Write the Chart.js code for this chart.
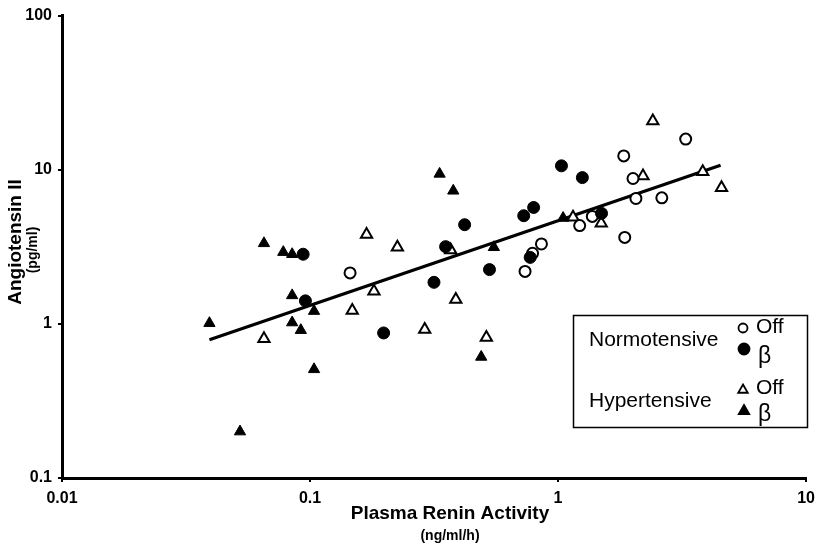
<!DOCTYPE html>
<html>
<head>
<meta charset="utf-8">
<script src="https://cdn.jsdelivr.net/npm/chart.js@4.4.0/dist/chart.umd.min.js"></script>
<style>
  html, body { margin: 0; padding: 0; background: #fff; }
  #wrap { width: 822px; height: 548px; }
</style>
</head>
<body>
<div id="wrap"><canvas id="c" width="822" height="548"></canvas></div>
<script>
// ---- Data ----
const xTicks = [0.01, 0.1, 1, 10];
const xTickLabels = ['0.01', '0.1', '1', '10'];
const yTicks = [0.1, 1, 10, 100];
const yTickLabels = ['0.1', '1', '10', '100'];

// Normotensive, Off (open circles)
const normOffX = [0.145, 0.736, 0.789, 0.857, 1.222, 1.374, 1.857, 1.84, 2.005, 2.06, 2.62, 3.27];
const normOffY = [2.14, 2.19, 2.87, 3.30, 4.34, 4.98, 3.64, 12.3, 8.77, 6.51, 6.57, 15.8];

// Normotensive, beta (filled circles)
const normBetaX = [0.0938, 0.0958, 0.198, 0.316, 0.352, 0.42, 0.529, 0.727, 0.797, 0.772, 1.032, 1.253, 1.497];
const normBetaY = [2.83, 1.41, 0.873, 1.86, 3.17, 4.4, 2.25, 5.03, 5.69, 2.70, 10.6, 8.89, 5.21];

// Hypertensive, Off (open triangles)
const hypOffX = [0.0652, 0.169, 0.225, 0.181, 0.148, 0.290, 0.387, 0.514, 0.369, 1.149, 1.493, 2.20, 2.41, 3.83, 4.56];
const hypOffY = [0.80, 3.8, 3.14, 1.63, 1.22, 0.92, 1.44, 0.815, 3.02, 4.91, 4.49, 9.12, 20.7, 9.72, 7.63];

// Hypertensive, beta (filled triangles)
const hypBetaX = [0.0393, 0.0522, 0.0652, 0.078, 0.0847, 0.0847, 0.0847, 0.0918, 0.1038, 0.1038, 0.333, 0.378, 0.551, 0.490, 1.048];
const hypBetaY = [1.01, 0.20, 3.33, 2.92, 2.83, 1.53, 1.02, 0.91, 1.21, 0.507, 9.4, 7.3, 3.14, 0.61, 4.86];

// Regression line end points
const fitX = [0.0393, 4.52];
const fitY = [0.79, 10.7];

const xTitle = 'Plasma Renin Activity';
const xUnit = '(ng/ml/h)';
const yTitle = 'Angiotensin II';
const yUnit = '(pg/ml)';
const legendGroups = ['Normotensive', 'Hypertensive'];
const legendStates = ['Off', 'β'];

// ---- Build ----
const pts = (xs, ys) => xs.map((x, i) => ({ x: x, y: ys[i] }));
const FONT = '"Liberation Sans", Arial, Helvetica, sans-serif';

const titlesAndLegend = {
  id: 'titlesAndLegend',
  afterDraw(chart) {
    const ctx = chart.ctx;
    ctx.save();
    ctx.fillStyle = '#000';
    ctx.strokeStyle = '#000';
    // x title
    ctx.textAlign = 'center';
    ctx.textBaseline = 'alphabetic';
    ctx.font = 'bold 19px ' + FONT;
    ctx.fillText(xTitle, 450, 519);
    ctx.font = 'bold 14px ' + FONT;
    ctx.fillText(xUnit, 450, 540);
    // y title
    ctx.save();
    ctx.translate(21, 242);
    ctx.rotate(-Math.PI / 2);
    ctx.font = 'bold 19px ' + FONT;
    ctx.fillText(yTitle, 0, 0);
    ctx.restore();
    ctx.save();
    ctx.translate(37, 250);
    ctx.rotate(-Math.PI / 2);
    ctx.font = 'bold 14px ' + FONT;
    ctx.fillText(yUnit, 0, 0);
    ctx.restore();

    // legend box
    ctx.lineWidth = 1.5;
    ctx.fillStyle = '#fff';
    ctx.fillRect(573, 315, 235, 113);
    ctx.strokeRect(573.5, 315.5, 234, 112);
    ctx.fillStyle = '#000';
    ctx.textAlign = 'left';
    ctx.textBaseline = 'middle';
    ctx.font = '500 21px ' + FONT;
    ctx.fillText(legendGroups[0], 589, 340);
    ctx.fillText(legendGroups[1], 589, 401);
    ctx.font = '21px ' + FONT;
    ctx.fillText(legendStates[0], 756, 327);
    ctx.fillText(legendStates[0], 756, 388);
    ctx.font = '23px ' + FONT;
    ctx.fillText(legendStates[1], 758, 357);
    ctx.fillText(legendStates[1], 758, 415);

    const dp = Chart.helpers.drawPoint;
    ctx.lineWidth = 1.8;
    ctx.fillStyle = '#fff';
    dp(ctx, { pointStyle: 'circle', radius: 4.5, borderWidth: 1.8 }, 743, 328);
    ctx.fillStyle = '#000';
    dp(ctx, { pointStyle: 'circle', radius: 5.5, borderWidth: 1 }, 744, 349);
    ctx.fillStyle = '#fff';
    dp(ctx, { pointStyle: 'triangle', radius: 5.5, borderWidth: 1.8 }, 743, 390);
    ctx.fillStyle = '#000';
    dp(ctx, { pointStyle: 'triangle', radius: 6, borderWidth: 1 }, 744, 411);
    ctx.restore();
  }
};

const powTicks = (vals) => (scale) => { scale.ticks = vals.map(v => ({ value: v, major: true })); };

new Chart(document.getElementById('c'), {
  type: 'scatter',
  data: {
    datasets: [
      { label: 'Normotensive β', data: pts(normBetaX, normBetaY), pointStyle: 'circle', pointRadius: 6,
        backgroundColor: '#000', borderColor: '#000', borderWidth: 1, order: 1 },
      { label: 'Hypertensive β', data: pts(hypBetaX, hypBetaY), pointStyle: 'triangle', pointRadius: 6.5,
        backgroundColor: '#000', borderColor: '#000', borderWidth: 1, order: 2 },
      { label: 'Normotensive Off', data: pts(normOffX, normOffY), pointStyle: 'circle', pointRadius: 5.5,
        backgroundColor: '#fff', borderColor: '#000', borderWidth: 2, order: 3 },
      { label: 'Hypertensive Off', data: pts(hypOffX, hypOffY), pointStyle: 'triangle', pointRadius: 6.5,
        backgroundColor: '#fff', borderColor: '#000', borderWidth: 2, order: 4 },
      { type: 'line', label: 'fit', data: pts(fitX, fitY), borderColor: '#000', borderWidth: 3.2,
        pointRadius: 0, fill: false, order: 5 }
    ]
  },
  options: {
    responsive: false,
    animation: false,
    events: [],
    layout: { padding: { left: 0, right: 12, top: 13, bottom: 0 } },
    plugins: { legend: { display: false }, tooltip: { enabled: false } },
    scales: {
      x: {
        type: 'logarithmic', min: 0.01, max: 10,
        afterBuildTicks: powTicks(xTicks),
        afterFit: (s) => { s.height = 70; },
        ticks: { autoSkip: false, maxRotation: 0, padding: 7, color: '#000',
                 font: { family: FONT, size: 16, weight: 'bold' },
                 callback: (v, i) => xTickLabels[i] },
        grid: { drawOnChartArea: false, drawTicks: true, tickLength: 4, color: '#000', lineWidth: 2 },
        border: { display: true, color: '#000', width: 3 }
      },
      y: {
        type: 'logarithmic', min: 0.1, max: 100,
        afterBuildTicks: powTicks(yTicks),
        afterFit: (s) => { s.width = 62; },
        ticks: { autoSkip: false, padding: 6, color: '#000',
                 font: { family: FONT, size: 16, weight: 'bold' },
                 callback: (v, i) => yTickLabels[i] },
        grid: { drawOnChartArea: false, drawTicks: true, tickLength: 4, color: '#000', lineWidth: 2 },
        border: { display: true, color: '#000', width: 3 }
      }
    }
  },
  plugins: [titlesAndLegend]
});
</script>
</body>
</html>
